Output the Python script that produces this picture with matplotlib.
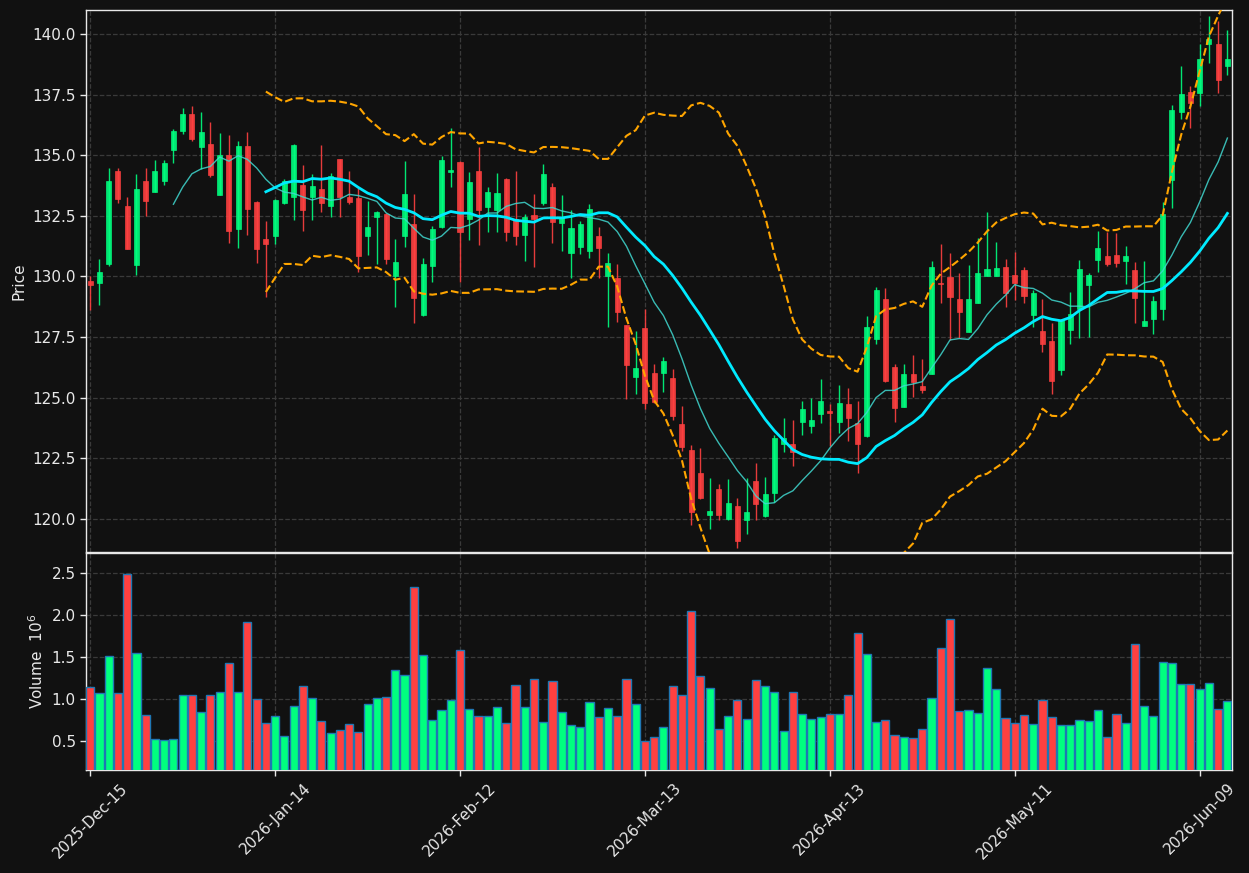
import numpy as np
import pandas as pd
import matplotlib
matplotlib.use("Agg")
import matplotlib.pyplot as plt

# ---------------- data ----------------
holidays = ["2025-12-25", "2026-01-01", "2026-01-19", "2026-02-16", "2026-04-03", "2026-05-25"]
dates = pd.bdate_range(start="2025-12-15", periods=124, freq="C", holidays=holidays)

opens = [129.81, 129.73, 130.50, 134.37, 132.89, 130.48, 133.92, 133.48, 133.93, 135.20,
         135.98, 136.71, 135.33, 135.46, 133.36, 135.02, 131.96, 135.39, 133.08, 131.55,
         131.66, 133.01, 133.28, 133.77, 133.29, 133.61, 132.92, 134.84, 133.28, 133.24,
         131.65, 132.47, 132.58, 130.04, 131.69, 132.17, 128.42, 130.42, 132.02, 134.32,
         134.71, 132.35, 134.33, 132.85, 132.76, 134.04, 132.38, 131.73, 132.55, 133.05,
         133.67, 132.20, 130.96, 131.21, 131.04, 131.65, 130.01, 129.92, 127.98, 125.85,
         127.88, 126.00, 126.00, 125.82, 123.93, 122.86, 121.88, 120.16, 121.24, 119.99,
         120.52, 119.96, 121.57, 120.12, 121.08, 123.11, 123.11, 123.99, 123.82, 124.32,
         124.47, 124.00, 124.76, 123.96, 123.41, 127.42, 129.08, 126.27, 124.61, 125.98,
         125.50, 125.97, 129.73, 129.98, 129.08, 127.70, 128.89, 130.04, 130.00, 130.40,
         130.07, 130.28, 128.40, 127.75, 127.34, 126.13, 127.80, 128.67, 129.63, 130.70,
         130.85, 130.89, 130.62, 130.27, 127.95, 128.23, 128.64, 133.99, 136.78, 137.62,
         137.56, 139.58, 139.59, 138.67]
highs = [130.02, 130.74, 134.48, 134.49, 133.29, 134.22, 134.47, 134.81, 134.79, 136.09,
         136.95, 137.02, 136.79, 136.36, 135.91, 135.83, 135.58, 135.95, 133.12, 132.30,
         133.20, 134.04, 135.45, 134.59, 134.21, 135.44, 134.25, 134.86, 134.33, 133.63,
         133.11, 132.68, 132.60, 131.56, 134.78, 133.40, 130.77, 132.09, 134.96, 136.13,
         134.75, 134.32, 135.34, 133.70, 134.27, 134.08, 134.34, 132.58, 133.42, 134.64,
         133.86, 133.37, 132.75, 132.29, 132.97, 132.05, 130.98, 130.52, 128.00, 127.75,
         128.68, 126.40, 126.68, 126.20, 124.65, 123.06, 122.93, 121.70, 121.44, 121.66,
         120.86, 121.70, 122.31, 121.74, 123.45, 124.17, 124.10, 124.88, 124.99, 125.77,
         124.76, 125.51, 125.40, 124.88, 128.38, 129.56, 129.52, 126.40, 126.40, 126.77,
         126.60, 130.65, 131.33, 130.96, 130.14, 130.46, 131.58, 132.64, 131.42, 130.74,
         131.02, 130.41, 129.45, 129.07, 128.07, 128.24, 129.34, 130.66, 130.14, 131.89,
         131.85, 131.78, 131.27, 130.59, 130.62, 129.18, 133.08, 137.08, 138.68, 137.85,
         139.59, 140.73, 140.55, 140.18]
lows = [128.62, 128.84, 130.44, 133.04, 131.13, 130.07, 132.51, 133.47, 133.77, 134.68,
        135.87, 135.57, 134.45, 134.09, 133.36, 131.37, 131.16, 131.70, 130.54, 129.17,
        131.33, 132.98, 132.34, 131.89, 132.34, 132.65, 132.45, 132.47, 132.99, 130.19,
        130.87, 130.51, 130.53, 128.76, 131.22, 128.07, 128.37, 129.78, 132.00, 133.67,
        129.78, 131.52, 131.30, 131.83, 131.84, 131.47, 131.29, 130.65, 130.40, 132.95,
        131.37, 131.04, 129.93, 130.91, 130.76, 129.95, 127.93, 128.13, 124.93, 125.14,
        124.53, 124.80, 125.23, 124.10, 122.81, 119.76, 120.83, 119.60, 119.94, 119.95,
        118.82, 119.38, 119.97, 120.10, 120.72, 122.77, 122.18, 123.47, 123.55, 123.96,
        122.99, 123.55, 123.22, 121.90, 123.40, 127.23, 125.64, 124.01, 124.60, 125.02,
        125.20, 125.96, 128.91, 127.40, 127.47, 127.70, 128.89, 130.04, 130.00, 128.74,
        129.04, 128.91, 127.92, 126.89, 125.17, 125.94, 127.23, 127.48, 127.51, 130.18,
        130.45, 130.38, 129.70, 128.08, 127.95, 127.64, 128.19, 132.82, 136.48, 136.14,
        137.04, 138.81, 137.58, 138.29]
closes = [129.65, 130.18, 133.94, 133.18, 131.14, 133.59, 133.11, 134.33, 134.66, 136.01,
          136.71, 135.68, 135.97, 134.18, 135.02, 131.88, 135.39, 132.78, 131.14, 131.33,
          133.17, 133.94, 135.41, 132.76, 133.73, 133.01, 134.14, 133.28, 133.09, 130.83,
          132.05, 132.66, 130.71, 130.61, 133.40, 129.11, 130.53, 131.97, 134.80, 134.39,
          131.82, 133.88, 132.76, 133.48, 133.46, 131.83, 131.69, 132.47, 132.39, 134.24,
          132.24, 132.47, 131.98, 132.18, 132.79, 131.17, 130.54, 128.53, 126.35, 126.21,
          124.78, 124.84, 126.50, 124.25, 122.96, 120.28, 120.87, 120.35, 120.15, 120.67,
          119.09, 120.28, 120.61, 121.05, 123.36, 123.32, 122.75, 124.55, 124.10, 124.88,
          124.37, 124.78, 124.17, 123.08, 127.93, 129.45, 125.71, 124.57, 125.98, 125.64,
          125.34, 130.40, 129.67, 129.14, 128.52, 129.08, 130.15, 130.30, 130.36, 129.30,
          129.72, 129.18, 129.32, 127.21, 125.68, 128.22, 128.46, 130.32, 130.07, 131.18,
          130.52, 130.56, 130.84, 129.10, 128.16, 128.99, 132.56, 136.88, 137.53, 137.15,
          138.95, 139.81, 138.10, 138.95]
volumes_m = [1.143, 1.071, 1.512, 1.071, 2.488, 1.548, 0.810, 0.524, 0.508, 0.524,
             1.048, 1.048, 0.845, 1.048, 1.083, 1.429, 1.083, 1.917, 1.000, 0.714,
             0.798, 0.560, 0.917, 1.155, 1.012, 0.738, 0.595, 0.631, 0.702, 0.607,
             0.940, 1.012, 1.024, 1.345, 1.286, 2.333, 1.524, 0.750, 0.869, 0.988,
             1.583, 0.881, 0.798, 0.798, 0.905, 0.714, 1.167, 0.905, 1.238, 0.726,
             1.214, 0.845, 0.690, 0.667, 0.964, 0.786, 0.893, 0.798, 1.238, 0.940,
             0.500, 0.548, 0.667, 1.155, 1.048, 2.048, 1.274, 1.131, 0.643, 0.798,
             0.988, 0.762, 1.226, 1.155, 1.083, 0.619, 1.083, 0.821, 0.762, 0.786,
             0.821, 0.821, 1.048, 1.786, 1.536, 0.726, 0.750, 0.571, 0.548, 0.536,
             0.643, 1.012, 1.607, 1.952, 0.857, 0.869, 0.833, 1.369, 1.119, 0.774,
             0.714, 0.810, 0.702, 0.988, 0.786, 0.690, 0.690, 0.750, 0.738, 0.869,
             0.548, 0.821, 0.714, 1.655, 0.917, 0.798, 1.440, 1.429, 1.179, 1.179,
             1.119, 1.190, 0.881, 0.976]
mav_short, mav_long = 10, 20

# ---------------- styling ----------------
BG = "#111111"
UP = "#00ff7f"
DOWN = "#ff4040"
FG = "#e8e8e8"
GRID = "#3a3a3a"

df = pd.DataFrame({"Open": opens, "High": highs, "Low": lows, "Close": closes,
                   "Volume": volumes_m}, index=dates)
x = np.arange(len(df))
up = df["Close"].values >= df["Open"].values
cols = np.where(up, UP, DOWN)

ma_s = df["Close"].rolling(mav_short).mean()
ma_l = df["Close"].rolling(mav_long).mean()
sd = df["Close"].rolling(mav_long).std()
bb_up = ma_l + 2 * sd
bb_lo = ma_l - 2 * sd

fig = plt.figure(figsize=(12.49, 8.73), dpi=100, facecolor=BG)
ax = fig.add_axes([0.0689, 0.3677, 0.9175, 0.6209], facecolor=BG)
axv = fig.add_axes([0.0689, 0.1180, 0.9175, 0.2486], facecolor=BG, sharex=ax)

# candles
ax.vlines(x, df["Low"], df["High"], colors=cols, linewidth=1.0, alpha=0.9, zorder=2)
ax.bar(x, df["Close"] - df["Open"], bottom=df["Open"], width=0.55, color=cols,
       edgecolor=cols, linewidth=0.5, alpha=0.9, zorder=3)

ax.plot(x, ma_s, color="#40d8d0", linewidth=1.0, alpha=0.85, zorder=4)
ax.plot(x, ma_l, color="#00eaff", linewidth=2.0, zorder=4)
ax.plot(x, bb_up, color="#ffa500", linewidth=1.5, linestyle="--", zorder=4)
ax.plot(x, bb_lo, color="#ffa500", linewidth=1.5, linestyle="--", zorder=4)

ax.set_ylim(118.64, 140.99)
ax.set_xlim(-0.45, 123.5)
ax.set_yticks(np.arange(120, 140.01, 2.5))
ax.set_yticklabels([f"{v:.1f}" for v in np.arange(120, 140.01, 2.5)])
ax.set_ylabel("Price", color=FG, fontsize=11)

# volume
axv.bar(x, df["Volume"], width=0.88, color=cols, edgecolor="#1f77b4", linewidth=1.0, zorder=3)
axv.set_ylim(0.3 * min(volumes_m), 1.1 * max(volumes_m))
axv.set_yticks([0.5, 1.0, 1.5, 2.0, 2.5])
axv.set_yticklabels(["0.5", "1.0", "1.5", "2.0", "2.5"])
axv.set_ylabel("Volume  $10^6$", color=FG, fontsize=11)

tick_idx = list(range(0, len(df), 20))
axv.set_xticks(tick_idx)
axv.set_xticklabels([dates[i].strftime("%Y-%b-%d") for i in tick_idx],
                    rotation=45, ha="center", fontsize=11, color=FG)
plt.setp(ax.get_xticklabels(), visible=False)

for a in (ax, axv):
    a.grid(True, color=GRID, linestyle="--", linewidth=0.9)
    a.set_axisbelow(True)
    for s in a.spines.values():
        s.set_color(FG)
        s.set_linewidth(1.0)
    a.tick_params(colors=FG, labelsize=11, length=4, width=1)
ax.tick_params(axis="x", length=0)

fig.savefig("out.png", dpi=100, facecolor=BG)
